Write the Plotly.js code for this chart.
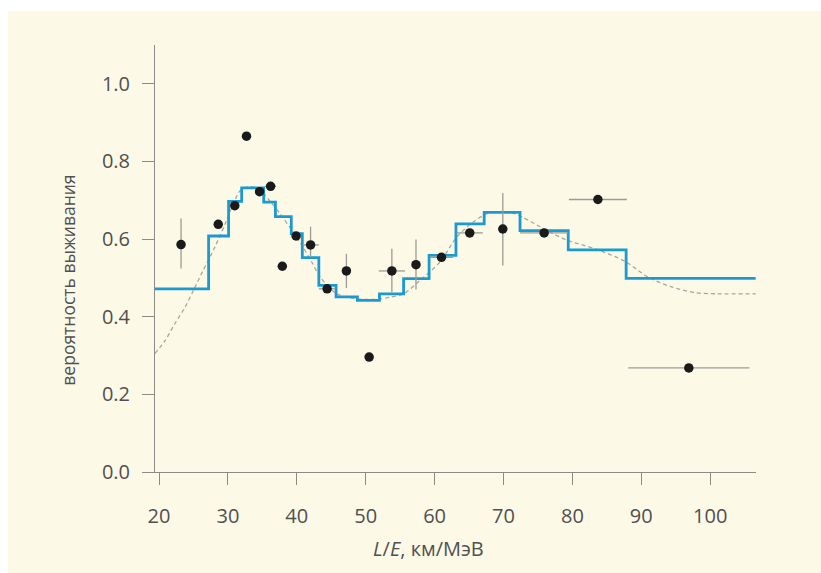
<!DOCTYPE html>
<html>
<head>
<meta charset="utf-8">
<script src="https://cdn.plot.ly/plotly-3.0.1.min.js"></script>
<style>
  html, body { margin: 0; padding: 0; background: #ffffff; }
  #wrap { position: relative; width: 821px; height: 573px; background: #ffffff; overflow: hidden; }
  #chart { position: absolute; left: 8px; top: 11px; width: 813px; height: 562px; }
</style>
</head>
<body>
<div id="wrap"><div id="chart"></div></div>
<script>
// Measured data points (L/E, survival probability)
const pointX = [23.2, 28.6, 31.0, 32.7, 34.6, 36.2, 37.9, 39.9, 42.0, 44.4, 47.2, 50.5, 53.8, 57.3, 61.0, 65.1, 69.9, 75.9, 83.7, 96.9];
const pointY = [0.586, 0.638, 0.686, 0.865, 0.722, 0.736, 0.530, 0.608, 0.585, 0.472, 0.518, 0.296, 0.518, 0.534, 0.553, 0.616, 0.626, 0.616, 0.702, 0.268];
const errYPlus  = [0.067, 0, 0, 0, 0, 0, 0, 0, 0.047, 0, 0.044, 0, 0.057, 0.065, 0, 0, 0.093, 0, 0, 0];
const errYMinus = [0.062, 0, 0, 0, 0, 0, 0, 0, 0.030, 0, 0.044, 0, 0.055, 0.064, 0, 0, 0.094, 0, 0, 0];
const errX      = [0, 0, 0, 0, 0, 0.8, 0, 0, 1.2, 1.2, 0, 0, 1.9, 0, 1.7, 1.9, 0, 3.5, 4.2, 8.8];

// Binned prediction (step histogram): bin edges and levels
const stepEdges  = [19.42, 27.2, 30.1, 32.0, 35.2, 36.9, 39.2, 40.8, 43.2, 45.7, 48.8, 52.0, 55.5, 59.2, 63.1, 67.2, 72.4, 79.4, 87.8, 106.6];
const stepLevels = [0.472, 0.608, 0.697, 0.732, 0.695, 0.658, 0.614, 0.552, 0.481, 0.451, 0.442, 0.459, 0.498, 0.558, 0.639, 0.669, 0.622, 0.572, 0.499];

// Smooth oscillation curve (dashed)
const curveX = [19.4, 20.9, 22.3, 23.8, 25.0, 26.4, 28.1, 29.6, 30.8, 31.8, 33.2, 34.6, 36.0, 37.6, 39.2, 40.9, 42.2, 43.4, 45.8, 48.7, 51.5, 53.5, 55.5, 57.9, 60.8, 63.2, 65.6, 68.0, 70.9, 72.8, 76.3, 79.4, 83.3, 87.6, 91.0, 94.2, 97.8, 101.0, 106.6];
const curveY = [0.305, 0.339, 0.382, 0.425, 0.468, 0.519, 0.579, 0.639, 0.691, 0.725, 0.735, 0.728, 0.700, 0.665, 0.625, 0.579, 0.540, 0.502, 0.459, 0.446, 0.445, 0.450, 0.459, 0.494, 0.541, 0.605, 0.644, 0.668, 0.669, 0.656, 0.622, 0.596, 0.575, 0.543, 0.502, 0.478, 0.462, 0.459, 0.459];

const xTicks = [20, 30, 40, 50, 60, 70, 80, 90, 100];
const yTicks = [0.0, 0.2, 0.4, 0.6, 0.8, 1.0];
const yTickText = ['0.0', '0.2', '0.4', '0.6', '0.8', '1.0'];

const stepY = stepLevels.concat([stepLevels[stepLevels.length - 1]]);

const font = 'Open Sans, Noto Sans, sans-serif';
const axisColor = '#8c8c86';
const textColor = '#505050';

const traces = [
  {
    x: curveX, y: curveY, type: 'scatter', mode: 'lines',
    line: { color: '#a7a7a2', width: 1.3, dash: '4px,3px', shape: 'spline', smoothing: 0.8 },
    hoverinfo: 'skip', showlegend: false
  },
  {
    x: stepEdges, y: stepY, type: 'scatter', mode: 'lines',
    line: { color: '#1b9ad2', width: 2.8, shape: 'hv' },
    showlegend: false
  },
  {
    x: pointX, y: pointY, type: 'scatter', mode: 'markers',
    marker: { color: '#1a1a1a', size: 9.5 },
    error_y: { type: 'data', symmetric: false, array: errYPlus, arrayminus: errYMinus, color: '#9c9c95', thickness: 1.3, width: 0 },
    error_x: { type: 'data', array: errX, color: '#9c9c95', thickness: 1.3, width: 0 },
    showlegend: false
  }
];

const layout = {
  width: 813, height: 562,
  margin: { l: 147, r: 65, t: 34, b: 101 },
  paper_bgcolor: '#fdf9e7',
  plot_bgcolor: '#fdf9e7',
  font: { family: font, color: textColor, size: 20 },
  showlegend: false,
  xaxis: {
    range: [19.42, 106.65],
    tickvals: xTicks,
    ticktext: xTicks.map(String),
    ticks: 'outside', ticklen: 12, tickwidth: 1, tickcolor: axisColor,
    showline: true, linecolor: axisColor, linewidth: 1,
    showgrid: false, zeroline: false,
    ticklabelstandoff: 14,
    tickfont: { family: font, size: 20, color: textColor }
  },
  yaxis: {
    range: [0, 1.1],
    tickvals: yTicks,
    ticktext: yTickText,
    ticks: 'outside', ticklen: 12, tickwidth: 1, tickcolor: axisColor,
    showline: true, linecolor: axisColor, linewidth: 1,
    showgrid: false, zeroline: false,
    ticklabelstandoff: 8,
    tickfont: { family: font, size: 20, color: textColor }
  },
  annotations: [
    {
      text: '<i>L</i>/<i>E</i>, км/МэВ', xref: 'paper', yref: 'paper',
      x: 0.455, y: -0.178, xanchor: 'center', yanchor: 'middle', showarrow: false,
      font: { family: font, size: 20, color: textColor }
    },
    {
      text: 'вероятность выживания', xref: 'paper', yref: 'paper',
      x: -0.145, y: 0.45, xanchor: 'center', yanchor: 'middle', textangle: -90, showarrow: false,
      font: { family: font, size: 17.5, color: textColor }
    }
  ]
};

Plotly.newPlot('chart', traces, layout, { displayModeBar: false, staticPlot: true });
</script>
</body>
</html>
